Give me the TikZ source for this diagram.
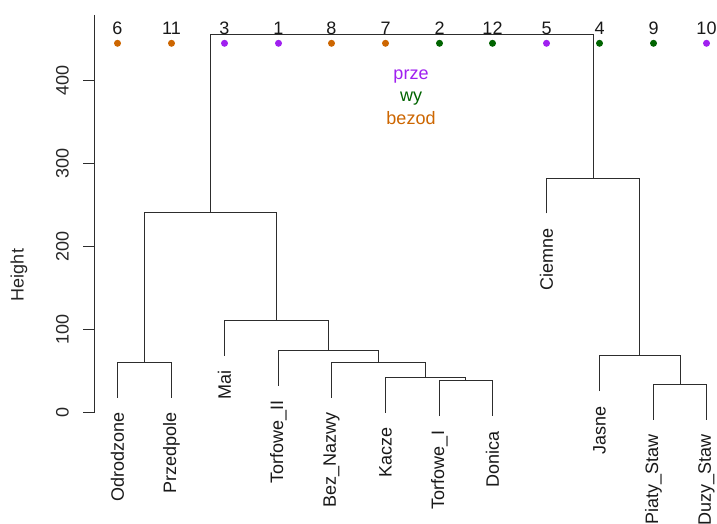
\documentclass[tikz,border=0pt]{standalone}
\usepackage{fontspec}
\setmainfont{Liberation Sans}
\definecolor{orangeC}{RGB}{205,102,0}
\definecolor{purpleC}{RGB}{160,32,240}
\definecolor{greenC}{RGB}{0,100,0}
\definecolor{lineC}{RGB}{45,45,45}
\begin{document}
\begin{tikzpicture}[x=1bp,y=-1bp,
  every node/.style={font=\fontsize{18bp}{21bp}\selectfont, inner sep=0pt, outer sep=0pt},
  tree/.style={draw=lineC, line width=1bp},
  leaflabel/.style={rotate=90, anchor=east, text=black!90},
  ticklabel/.style={rotate=90, anchor=center, text=black!85},
  numlabel/.style={anchor=base, text=black!90},
  leafdot/.style={circle, minimum size=7bp},
  legtext/.style={anchor=base}]
\useasboundingbox (0,0) rectangle (717,524);
\fill[white] (0,0) rectangle (717,524);

% axis
\coordinate (axtop) at (94,15);
\coordinate (axbot) at (94,412.5);
\draw[tree] (axtop) -- (axbot);
\foreach \v/\yy in {0/412.5,100/329.5,200/246.5,300/163.5,400/80.5}{
  \coordinate (t\v) at (94,\yy);
  \coordinate (tl\v) at (83,\yy);
  \draw[tree] (t\v) -- (tl\v);
  \node[ticklabel] (lab\v) at (62.5,\yy) {\v};
}
\node[rotate=90, anchor=center, text=black!85] (ylab) at (19,275) {Height};

% leaf end points
\coordinate (lOdr) at (117.5,397.5);
\coordinate (lPrz) at (171.5,397.5);
\coordinate (lMai) at (224.5,355.5);
\coordinate (lTII) at (278.5,385.5);
\coordinate (lBez) at (331.5,397.5);
\coordinate (lKac) at (385.5,412.5);
\coordinate (lTI)  at (439.5,416.0);
\coordinate (lDon) at (492.5,416.0);
\coordinate (lCie) at (546.5,213.5);
\coordinate (lJas) at (599.5,391.0);
\coordinate (lPia) at (653.5,419.5);
\coordinate (lDuz) at (706.5,419.5);

% merge points
\coordinate (mA) at (144.5,362.5);
\coordinate (mB) at (465.5,380.5);
\coordinate (mC) at (425.5,377.5);
\coordinate (mD) at (378.5,362.5);
\coordinate (mE) at (328.5,350.5);
\coordinate (mF) at (276.5,320.5);
\coordinate (mG) at (210.5,212.5);
\coordinate (mH) at (680.5,384.5);
\coordinate (mI) at (639.5,355.5);
\coordinate (mJ) at (593.5,178.5);
\coordinate (mK) at (401.5,34.5);

% connectors
\draw[tree] (lOdr) |- (mA) -| (lPrz);
\draw[tree] (lTI) |- (mB) -| (lDon);
\draw[tree] (lKac) |- (mC) -| (mB);
\draw[tree] (lBez) |- (mD) -| (mC);
\draw[tree] (lTII) |- (mE) -| (mD);
\draw[tree] (lMai) |- (mF) -| (mE);
\draw[tree] (mA) |- (mG) -| (mF);
\draw[tree] (lPia) |- (mH) -| (lDuz);
\draw[tree] (lJas) |- (mI) -| (mH);
\draw[tree] (lCie) |- (mJ) -| (mI);
\draw[tree] (mG) |- (mK) -| (mJ);

% leaf labels
\node[leaflabel] (nOdr) at (117.5,412.5) {Odrodzone};
\node[leaflabel] (nPrz) at (171.5,412.5) {Przedpole};
\node[leaflabel] (nMai) at (224.5,370.5) {Mai};
\node[leaflabel] (nTII) at (278.5,400.5) {Torfowe\_II};
\node[leaflabel] (nBez) at (331.5,412.5) {Bez\_Nazwy};
\node[leaflabel] (nKac) at (385.5,427.5) {Kacze};
\node[leaflabel] (nTI)  at (439.5,431.0) {Torfowe\_I};
\node[leaflabel] (nDon) at (492.5,431.0) {Donica};
\node[leaflabel] (nCie) at (546.5,228.5) {Ciemne};
\node[leaflabel] (nJas) at (599.5,406.0) {Jasne};
\node[leaflabel] (nPia) at (653.5,434.5) {Piaty\_Staw};
\node[leaflabel] (nDuz) at (706.5,434.5) {Duzy\_Staw};

% top numbers and dots
\foreach \n/\xx/\c in {6/117.5/orangeC,11/171.5/orangeC,3/224.5/purpleC,1/278.5/purpleC,
  8/331.5/orangeC,7/385.5/orangeC,2/439.5/greenC,12/492.5/greenC,5/546.5/purpleC,
  4/599.5/greenC,9/653.5/greenC,10/706.5/purpleC}{
  \node[numlabel] (num\n) at (\xx,35) {\n};
  \node[leafdot, fill=\c] (dot\n) at (\xx,43.3) {};
}

% legend
\node[legtext, text=purpleC] (legA) at (411,80) {prze};
\node[legtext, text=greenC] (legB) at (411,101.7) {wy};
\node[legtext, text=orangeC] (legC) at (411,125) {bezod};
\end{tikzpicture}
\end{document}
